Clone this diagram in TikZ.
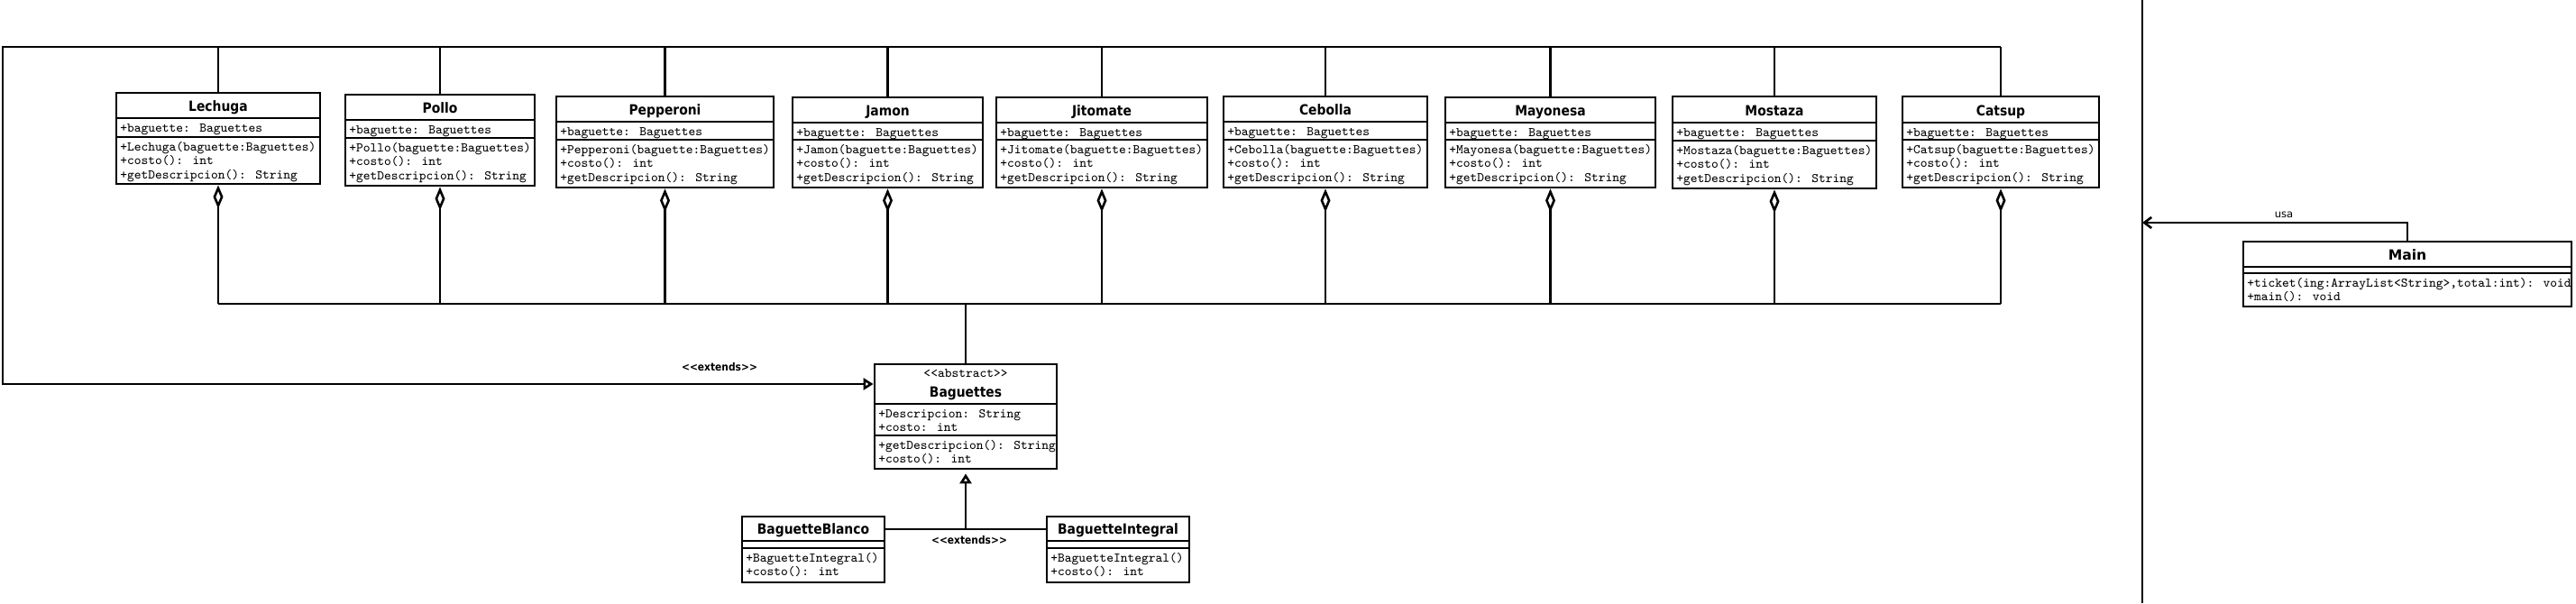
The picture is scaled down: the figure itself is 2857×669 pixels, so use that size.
\documentclass[tikz,border=0pt]{standalone}
\usepackage{fontspec}
\setmainfont{DejaVu Sans}
\newfontfamily\ttlfont{DejaVu Sans}[FakeStretch=0.89]
\newfontfamily\monof{Latin Modern Mono}
\usetikzlibrary{arrows.meta,fit}

\tikzset{
 classbox/.style={draw, line width=1.4pt, inner sep=0pt, fill=white},
 divider/.style={line width=1.3pt},
 ttl/.style={font=\ttlfont\bfseries\fontsize{7.8}{9}\selectfont, inner sep=0pt},
 mono/.style={font=\monof\fontsize{7.3}{8.5}\selectfont, inner sep=0pt},
 conn/.style={line width=1.3pt},
 agg/.style={conn, {Diamond[open,length=13pt,width=5.5pt]}-},
 gen/.style={conn, -{Triangle[open,length=5.5pt,width=6.5pt]}},
 dep/.style={conn, -{Straight Barb[length=4pt,width=6pt]}},
 stereo/.style={font=\ttlfont\bfseries\fontsize{6}{7}\selectfont, inner sep=0pt},
 lbl/.style={font=\fontsize{5.8}{7}\selectfont, inner sep=0pt},
}

% name x1 y1 x2 y2 yh ya title
\newcommand\umlbox[8]{%
 \coordinate (#1-nw) at (#2,#3);
 \coordinate (#1-se) at (#4,#5);
 \node[classbox, fit=(#1-nw)(#1-se)] (#1) {};
 \draw[divider] (#2,#6) -- (#4,#6);
 \draw[divider] (#2,#7) -- (#4,#7);
 \node[ttl, anchor=base] (#1-title) at ({(#2+#4)/2},{#6-7.5}) {#8};
}
% name prefix, x1, divider y, list of lines
\newcommand\umllines[4]{%
 \foreach \mytxt [count=\myi] in {#4} {
  \node[mono, anchor=base west] (#1\myi) at ({#2+4},{#3+15+(\myi-1)*15.5}) {\mytxt};
 }
}

\begin{document}
\begin{tikzpicture}[x=0.5pt, y=-0.5pt]
\useasboundingbox (0,0) rectangle (2857,669);

% ingredient classes
\umlbox{lechuga}{129}{103}{355}{204}{131}{152}{Lechuga}
\umllines{lechuga-a}{129}{131}{+baguette: Baguettes}
\umllines{lechuga-m}{129}{152}{+Lechuga(baguette:Baguettes),+costo(): int,+getDescripcion(): String}

\umlbox{pollo}{383}{105}{593}{206}{133}{153}{Pollo}
\umllines{pollo-a}{383}{133}{+baguette: Baguettes}
\umllines{pollo-m}{383}{153}{+Pollo(baguette:Baguettes),+costo(): int,+getDescripcion(): String}

\umlbox{pepperoni}{617}{107}{858}{208}{135}{155}{Pepperoni}
\umllines{pepperoni-a}{617}{135}{+baguette: Baguettes}
\umllines{pepperoni-m}{617}{155}{+Pepperoni(baguette:Baguettes),+costo(): int,+getDescripcion(): String}

\umlbox{jamon}{879}{108}{1090}{208}{136}{155}{Jamon}
\umllines{jamon-a}{879}{136}{+baguette: Baguettes}
\umllines{jamon-m}{879}{155}{+Jamon(baguette:Baguettes),+costo(): int,+getDescripcion(): String}

\umlbox{jitomate}{1105}{108}{1339}{208}{136}{155}{Jitomate}
\umllines{jitomate-a}{1105}{136}{+baguette: Baguettes}
\umllines{jitomate-m}{1105}{155}{+Jitomate(baguette:Baguettes),+costo(): int,+getDescripcion(): String}

\umlbox{cebolla}{1357}{107}{1583}{208}{135}{155}{Cebolla}
\umllines{cebolla-a}{1357}{135}{+baguette: Baguettes}
\umllines{cebolla-m}{1357}{155}{+Cebolla(baguette:Baguettes),+costo(): int,+getDescripcion(): String}

\umlbox{mayonesa}{1603}{108}{1836}{208}{136}{155}{Mayonesa}
\umllines{mayonesa-a}{1603}{136}{+baguette: Baguettes}
\umllines{mayonesa-m}{1603}{155}{+Mayonesa(baguette:Baguettes),+costo(): int,+getDescripcion(): String}

\umlbox{mostaza}{1855}{107}{2081}{209}{136}{156}{Mostaza}
\umllines{mostaza-a}{1855}{136}{+baguette: Baguettes}
\umllines{mostaza-m}{1855}{156}{+Mostaza(baguette:Baguettes),+costo(): int,+getDescripcion(): String}

\umlbox{catsup}{2110}{107}{2328}{208}{136}{155}{Catsup}
\umllines{catsup-a}{2110}{136}{+baguette: Baguettes}
\umllines{catsup-m}{2110}{155}{+Catsup(baguette:Baguettes),+costo(): int,+getDescripcion(): String}

% abstract Baguettes
\umlbox{bag}{970}{404}{1172}{520}{448}{483}{Baguettes}
\node[mono, anchor=base] (bag-stereo) at (1071,418) {<<abstract>>};
\umllines{bag-a}{970}{448}{+Descripcion: String,+costo: int}
\umllines{bag-m}{970}{483}{+getDescripcion(): String,+costo(): int}

% concrete baguettes
\umlbox{bblanco}{823}{573}{981}{646}{600}{608}{BaguetteBlanco}
\umllines{bblanco-m}{823}{608}{+BaguetteIntegral(),+costo(): int}
\umlbox{bint}{1161}{573}{1319}{646}{600}{608}{BaguetteIntegral}
\umllines{bint-m}{1161}{608}{+BaguetteIntegral(),+costo(): int}

% Main
\umlbox{main}{2488}{268}{2852}{340}{296}{303}{\normalfont\bfseries\fontsize{7.8}{9}\selectfont Main}
\umllines{main-m}{2488}{303}{{+ticket(ing:ArrayList<String>,total:int): void},+main(): void}

% coordinates
\coordinate (tl) at (3,52);
\coordinate (tr) at (2219,52);
\coordinate (bl) at (3,426);
\coordinate (bus) at (0,337);
\coordinate (jy) at (0,587);
\coordinate (j) at (bag.south |- jy);
\coordinate (st) at (2376,0);
\coordinate (sb) at (2376,669);
\coordinate (uy) at (0,247);
\coordinate (u) at (st |- uy);

% top connectors and aggregation
\foreach \c in {lechuga,pollo,pepperoni,jamon,jitomate,cebolla,mayonesa,mostaza,catsup} {
  \draw[conn] (\c.north) -- (\c.north |- tl);
  \draw[agg] (\c.south) -- (\c.south |- bus);
}
\draw[conn] (lechuga.south |- bus) -- (catsup.south |- bus);
\draw[conn] (bag.north |- bus) -- (bag.north);

% extends from the left
\draw[gen] (tr) -- (tl) -- (bl) -- (bl -| bag.west);
\node[stereo, anchor=base] (ext1) at (798,411) {<<extends>>};

% extends bottom
\draw[conn] (bblanco.east |- j) -- (bint.west |- j);
\draw[gen] (j) -- ([yshift=-2pt]bag.south);
\node[stereo, anchor=base] (ext2) at (1075,603) {<<extends>>};

% separator and usa
\draw[conn] (st) -- (sb);
\draw[dep] (main.north) |- (u);
\node[lbl, anchor=base] (usa) at (2533,241) {usa};
\end{tikzpicture}
\end{document}
